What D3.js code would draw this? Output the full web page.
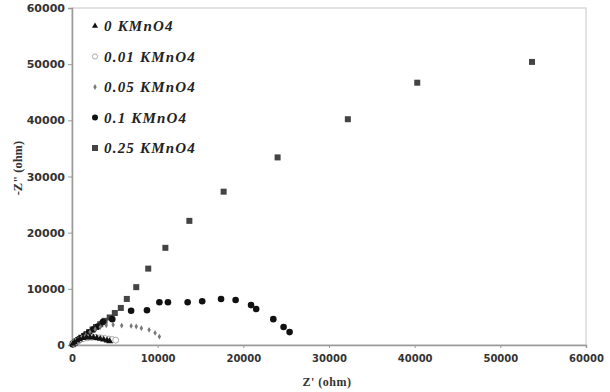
<!DOCTYPE html>
<html>
<head>
<meta charset="utf-8">
<script src="https://cdn.jsdelivr.net/npm/d3@7"></script>
<style>
  body { margin: 0; background: #fff; }
  svg { display: block; }
</style>
</head>
<body>
<svg width="610" height="392"></svg>
<script>
// Nyquist data, [Z', -Z''] in ohm
var series_names = ["0 KMnO4", "0.01 KMnO4", "0.05 KMnO4", "0.1 KMnO4", "0.25 KMnO4"];

var kmno4_0 = [[100,200],[300,480],[600,780],[900,1020],[1300,1220],[1700,1330],[2100,1380],
  [2500,1340],[2900,1240],[3300,1100],[3700,960],[4100,800],[4400,680]];

var kmno4_001 = [[200,300],[500,620],[900,900],[1300,1120],[1800,1280],[2300,1350],[2800,1360],
  [3300,1280],[3800,1180],[4300,1060],[4700,960],[5100,860]];

var kmno4_005 = [[150,200],[400,500],[700,900],[1100,1300],[1600,1800],[2100,2300],[2700,2800],
  [3300,3200],[4000,3500],[4800,3600],[5800,3450],[6900,3400],[7500,3300],[8100,3000],
  [9000,2700],[9700,2150],[10200,1500]];

var kmno4_01 = [[100,150],[300,400],[600,800],[1000,1200],[1500,1700],[2000,2200],[2500,2800],
  [3000,3300],[3600,4100],[4700,4600],[6900,6100],[8750,6200],[10200,7600],[11200,7600],
  [13500,7600],[15200,7800],[17400,8200],[19100,8000],[20900,7100],[21500,6400],
  [23500,4600],[24700,3200],[25400,2300]];

var kmno4_025 = [[100,150],[200,300],[350,450],[500,650],[700,850],[900,1050],[1100,1300],
  [1400,1600],[1700,1950],[2000,2300],[2400,2750],[2800,3200],[3300,3700],[3800,4300],
  [4400,4900],[5000,5700],[5700,6600],[6400,8200],[7500,10300],[8900,13600],[10900,17300],
  [13700,22100],[17700,27300],[24000,33400],[32200,40200],[40300,46700],[53700,50400]];

var x_ticks = [0, 10000, 20000, 30000, 40000, 50000, 60000];
var y_ticks = [0, 10000, 20000, 30000, 40000, 50000, 60000];

var svg = d3.select("svg"),
    margin = {top: 8, right: 24, bottom: 47, left: 72},
    width = +svg.attr("width") - margin.left - margin.right,
    height = +svg.attr("height") - margin.top - margin.bottom;

var x = d3.scaleLinear().domain([0, 60000]).range([0, width]);
var y = d3.scaleLinear().domain([0, 60000]).range([height, 0]);

var g = svg.append("g").attr("transform", "translate(" + margin.left + "," + margin.top + ")");

// plot frame
g.append("rect")
  .attr("width", width).attr("height", height)
  .attr("fill", "none").attr("stroke", "#cfcfcf").attr("stroke-width", 1.2);

var xAxis = g.append("g")
  .attr("transform", "translate(0," + height + ")")
  .call(d3.axisBottom(x).tickValues(x_ticks).tickSize(3).tickFormat(d3.format("d")));

var yAxis = g.append("g")
  .call(d3.axisLeft(y).tickValues(y_ticks).tickSize(4).tickFormat(d3.format("d")));

[xAxis, yAxis].forEach(function(a) {
  a.select(".domain").attr("stroke", "#999").attr("stroke-width", 1.5);
  a.selectAll(".tick line").attr("stroke", "#999");
  a.selectAll("text")
    .attr("fill", "#333")
    .style("font-family", "DejaVu Sans")
    .style("font-weight", "bold");
});
xAxis.selectAll("text").style("font-size", "10px").attr("dy", "1.1em");
yAxis.selectAll("text").style("font-size", "11px").attr("x", -7);

// axis titles
svg.append("text")
  .attr("x", margin.left + x(30000) - 2).attr("y", 386)
  .attr("text-anchor", "middle")
  .style("font-family", "Liberation Serif").style("font-weight", "bold").style("font-size", "12px")
  .style("letter-spacing", "0.5px")
  .attr("fill", "#333")
  .text("Z' (ohm)");

svg.append("text")
  .attr("transform", "translate(22," + (margin.top + y(31500)) + ") rotate(-90)")
  .attr("text-anchor", "middle")
  .style("font-family", "Liberation Serif").style("font-weight", "bold").style("font-size", "12.5px")
  .attr("fill", "#333")
  .text("-Z\" (ohm)");

// markers
var sym_tri = d3.symbol().type(d3.symbolTriangle).size(20);
var sym_diamond = d3.symbol().type(d3.symbolDiamond).size(10);

var marks = g.append("g");

marks.selectAll(".s025").data(kmno4_025).enter().append("rect")
  .attr("x", function(d) { return x(d[0]) - 3; })
  .attr("y", function(d) { return y(d[1]) - 3; })
  .attr("width", 6).attr("height", 6)
  .attr("fill", "#444");

marks.selectAll(".s01").data(kmno4_01).enter().append("circle")
  .attr("cx", function(d) { return x(d[0]); })
  .attr("cy", function(d) { return y(d[1]); })
  .attr("r", 3.3)
  .attr("fill", "#111");

marks.selectAll(".s005").data(kmno4_005).enter().append("path")
  .attr("d", sym_diamond)
  .attr("transform", function(d) { return "translate(" + x(d[0]) + "," + y(d[1]) + ")"; })
  .attr("fill", "#777");

marks.selectAll(".s001").data(kmno4_001).enter().append("circle")
  .attr("cx", function(d) { return x(d[0]); })
  .attr("cy", function(d) { return y(d[1]); })
  .attr("r", 3)
  .attr("fill", "#fff").attr("stroke", "#aaa").attr("stroke-width", 1);

marks.selectAll(".s0").data(kmno4_0).enter().append("path")
  .attr("d", sym_tri)
  .attr("transform", function(d) { return "translate(" + x(d[0]) + "," + y(d[1]) + ")"; })
  .attr("fill", "#111");

// legend
var legend = svg.append("g").attr("transform", "translate(95,26)");
var rows = legend.selectAll("g").data(series_names).enter().append("g")
  .attr("transform", function(d, i) { return "translate(0," + (i * 30.5) + ")"; });

rows.each(function(d, i) {
  var r = d3.select(this);
  if (i == 0) r.append("path").attr("d", d3.symbol().type(d3.symbolTriangle).size(16)).attr("fill", "#111");
  if (i == 1) r.append("circle").attr("r", 2.6).attr("fill", "#fff").attr("stroke", "#aaa");
  if (i == 2) r.append("path").attr("d", d3.symbol().type(d3.symbolDiamond).size(10)).attr("fill", "#777");
  if (i == 3) r.append("circle").attr("r", 3).attr("fill", "#111");
  if (i == 4) r.append("rect").attr("x", -3).attr("y", -3).attr("width", 6).attr("height", 6).attr("fill", "#444");
});

rows.append("text")
  .attr("x", 9).attr("y", 5)
  .style("font-family", "Liberation Serif").style("font-weight", "bold")
  .style("font-style", "italic").style("font-size", "15px")
  .style("letter-spacing", "1.2px")
  .attr("fill", "#222")
  .text(function(d) { return d; });
</script>
</body>
</html>
